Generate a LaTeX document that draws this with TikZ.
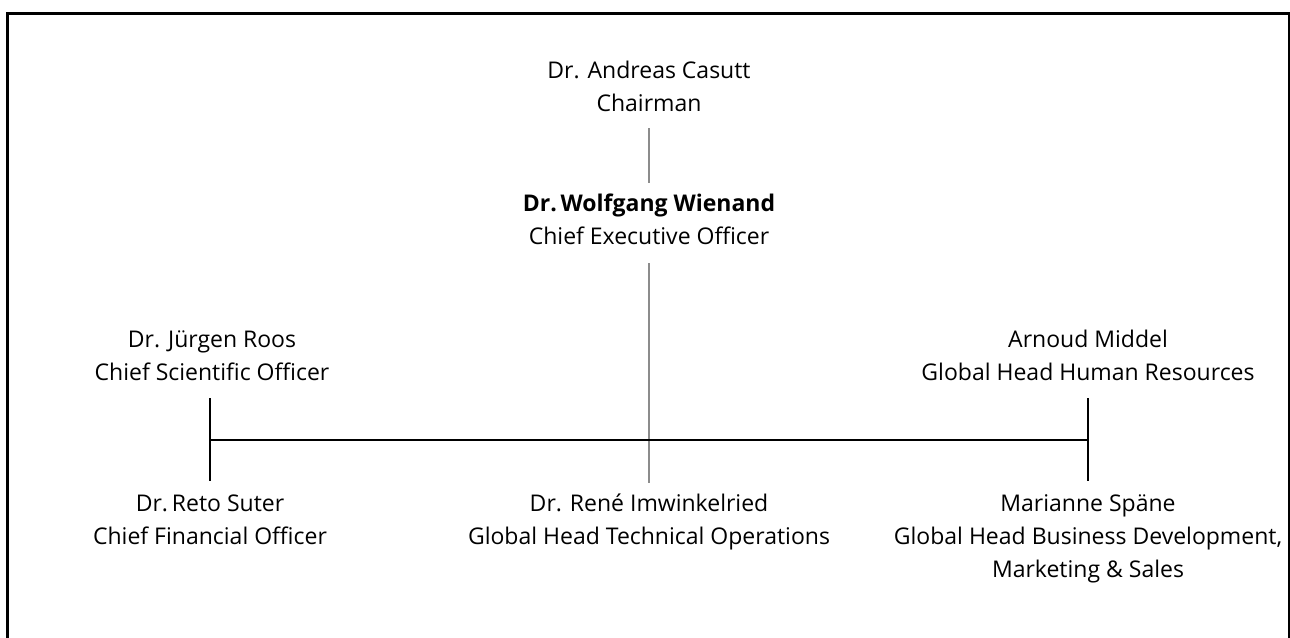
\documentclass[tikz,border=0pt]{standalone}
\usepackage{fontspec}
\setmainfont{Open Sans}
\usepackage{tikz}
\usetikzlibrary{calc}

\begin{document}
\begin{tikzpicture}[x=1pt,y=-1pt,
  person/.style={align=center,inner sep=0pt,anchor=base,
    font=\fontsize{23}{33}\selectfont},
  link/.style={line width=1.4pt,black},
  greylink/.style={line width=2pt,black!45}]
\useasboundingbox (0,0) rectangle (1290,637);
\begin{scope}
\clip (0,0) rectangle (1290,637);
\draw[line width=3pt] (7,13.5) rectangle (1289.5,700);
\end{scope}

% base = baseline of the last line
\node[person] (chair) at (649,111) {Dr. Andreas Casutt\\Chairman};
\node[person] (ceo) at (649,244) {\textbf{Dr.\,Wolfgang Wienand}\\Chief Executive Officer};
\node[person] (cso) at (212,380) {Dr. Jürgen Roos\\Chief Scientific Officer};
\node[person] (hr) at (1088,380) {Arnoud Middel\\Global Head Human Resources};
\node[person] (cfo) at (210,544) {Dr.\,Reto Suter\\Chief Financial Officer};
\node[person] (tech) at (649,544) {Dr. René Imwinkelried\\Global Head Technical Operations};
\node[person] (bd) at (1088,577) {Marianne Späne\\Global Head Business Development,\\Marketing \& Sales};

\coordinate (lefthub) at (210,440);
\coordinate (righthub) at (1088,440);

\draw[greylink] ($(chair.south)+(0,17)$) -- ($(ceo.north)+(0,-10)$);
\draw[greylink] ($(ceo.south)+(0,19)$) -- ($(tech.north)+(0,-10)$);
\draw[link] (lefthub) -- (righthub);
\draw[link] ($(cso.south)+(-2,18)$) -- ($(cfo.north)+(0,-13)$);
\draw[link] ($(hr.south)+(0,18)$) -- ($(bd.north)+(0,-13)$);
\end{tikzpicture}
\end{document}
